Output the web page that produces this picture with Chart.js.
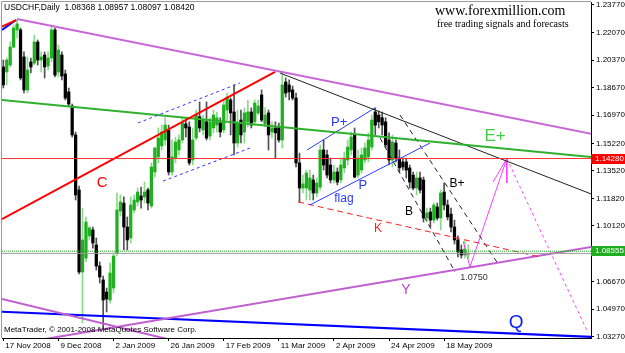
<!DOCTYPE html>
<html>
<head>
<meta charset="utf-8">
<script src="https://cdn.jsdelivr.net/npm/chart.js@4.4.0/dist/chart.umd.min.js"></script>
<style>
  body { margin: 0; background: #fff; }
  #wrap { width: 625px; height: 353px; }
</style>
</head>
<body>
<div id="wrap"><canvas id="chart" width="625" height="353"></canvas></div>
<script>
// USDCHF daily bars, bar 0 = 17 Nov 2008
const open = [
  1.1994,1.1963,1.2006,1.2117,1.2223,1.2223,1.2056,1.1852,1.2025,1.2018,
  1.2148,1.2037,1.2068,1.2000,1.2049,1.2223,1.1963,1.2068,1.1951,1.1840,
  1.1753,1.1574,1.1234,1.0727,1.0813,1.0950,1.0987,1.0894,1.0764,1.0678,
  1.0603,1.0554,1.0628,1.0844,1.1104,1.1153,1.1005,1.0937,1.1110,1.1160,
  1.1197,1.1191,1.1234,1.1135,1.1345,1.1438,1.1506,1.1543,1.1605,1.1345,
  1.1431,1.1481,1.1543,1.1642,1.1623,1.1419,1.1555,1.1686,1.1605,1.1655,
  1.1567,1.1617,1.1635,1.1648,1.1605,1.1728,1.1790,1.1716,1.1524,1.1666,
  1.1592,1.1655,1.1716,1.1655,1.1710,1.1821,1.1642,1.1710,1.1592,1.1617,
  1.1623,1.1543,1.1901,1.1883,1.1852,1.1802,1.1401,1.1246,1.1246,1.1234,
  1.1296,1.1215,1.1252,1.1481,1.1450,1.1388,1.1296,1.1345,1.1296,1.1370,
  1.1419,1.1481,1.1574,1.1326,1.1357,1.1419,1.1438,1.1499,1.1716,1.1697,
  1.1680,1.1655,1.1543,1.1419,1.1524,1.1431,1.1407,1.1407,1.1370,1.1326,
  1.1246,1.1308,1.1296,1.1061,1.1098,1.1048,1.1129,1.1061,1.1221,1.1141,
  1.1085,1.1005,1.0925,1.0863,1.0832,1.08368
];
const high = [
  1.2037,1.2049,1.2148,1.2253,1.2290,1.2235,1.2087,1.2056,1.2049,1.2192,
  1.2161,1.2087,1.2087,1.2087,1.2253,1.2235,1.2130,1.2087,1.1975,1.1864,
  1.1765,1.1592,1.1258,1.1122,1.1067,1.1011,1.1005,1.0937,1.0789,1.0702,
  1.0628,1.0783,1.0844,1.1215,1.1203,1.1191,1.1067,1.1191,1.1203,1.1246,
  1.1252,1.1283,1.1246,1.1401,1.1499,1.1617,1.1635,1.1680,1.1635,1.1543,
  1.1561,1.1574,1.1680,1.1680,1.1655,1.1617,1.1728,1.1778,1.1697,1.1778,
  1.1680,1.1728,1.1716,1.1680,1.1790,1.1833,1.1802,1.1883,1.1728,1.1728,
  1.1741,1.1790,1.1741,1.1790,1.1790,1.1852,1.1741,1.1728,1.1655,1.1655,
  1.1648,1.1951,1.1926,1.1914,1.1876,1.1833,1.1462,1.1326,1.1357,1.1357,
  1.1326,1.1308,1.1512,1.1543,1.1481,1.1431,1.1388,1.1370,1.1431,1.1468,
  1.1543,1.1592,1.1617,1.1481,1.1493,1.1524,1.1587,1.1697,1.1741,1.1722,
  1.1716,1.1680,1.1587,1.1574,1.1543,1.1481,1.1431,1.1431,1.1388,1.1345,
  1.1345,1.1345,1.1314,1.1122,1.1122,1.1153,1.1153,1.1234,1.1277,1.1172,
  1.1122,1.1048,1.0950,1.0894,1.0919,1.08957
];
const low = [
  1.1864,1.1883,1.1994,1.2111,1.2173,1.1914,1.1833,1.1833,1.1957,1.2006,
  1.2006,1.1963,1.1926,1.1975,1.2025,1.1932,1.1932,1.1914,1.1790,1.1753,
  1.1561,1.1172,1.0715,1.0412,1.0789,1.0925,1.0875,1.0739,1.0659,1.0387,
  1.0480,1.0535,1.0597,1.0826,1.1073,1.0863,1.0863,1.0906,1.1092,1.1135,
  1.1122,1.1153,1.1110,1.1122,1.1314,1.1401,1.1481,1.1512,1.1326,1.1326,
  1.1401,1.1450,1.1524,1.1561,1.1388,1.1388,1.1543,1.1592,1.1574,1.1543,
  1.1543,1.1587,1.1592,1.1561,1.1587,1.1666,1.1574,1.1450,1.1499,1.1524,
  1.1524,1.1623,1.1617,1.1635,1.1697,1.1655,1.1623,1.1481,1.1555,1.1431,
  1.1530,1.1493,1.1808,1.1790,1.1790,1.1376,1.1160,1.1215,1.1172,1.1172,
  1.1172,1.1191,1.1234,1.1357,1.1308,1.1277,1.1277,1.1265,1.1277,1.1339,
  1.1388,1.1450,1.1308,1.1308,1.1339,1.1401,1.1407,1.1481,1.1574,1.1617,
  1.1574,1.1493,1.1388,1.1376,1.1407,1.1345,1.1357,1.1308,1.1246,1.1234,
  1.1203,1.1215,1.1036,1.1036,1.1005,1.1030,1.1048,1.0987,1.1110,1.1048,
  1.0974,1.0900,1.0820,1.0813,1.0813,1.08097
];
const close = [
  1.1883,1.2037,1.2117,1.2235,1.2260,1.1926,1.1852,1.1975,1.1994,1.2148,
  1.2037,1.2056,1.1994,1.2049,1.2223,1.1944,1.2099,1.1938,1.1802,1.1765,
  1.1574,1.1203,1.0727,1.0925,1.1036,1.0999,1.0906,1.0764,1.0696,1.0554,
  1.0560,1.0721,1.0826,1.1110,1.1160,1.1005,1.0925,1.1141,1.1172,1.1221,
  1.1172,1.1221,1.1153,1.1376,1.1493,1.1555,1.1592,1.1635,1.1345,1.1438,
  1.1530,1.1543,1.1648,1.1617,1.1401,1.1543,1.1697,1.1617,1.1666,1.1555,
  1.1655,1.1697,1.1680,1.1592,1.1759,1.1808,1.1710,1.1524,1.1648,1.1574,
  1.1710,1.1716,1.1635,1.1771,1.1753,1.1666,1.1697,1.1574,1.1617,1.1587,
  1.1543,1.1883,1.1833,1.1840,1.1802,1.1401,1.1246,1.1271,1.1339,1.1308,
  1.1215,1.1277,1.1481,1.1388,1.1326,1.1296,1.1345,1.1283,1.1388,1.1431,
  1.1499,1.1561,1.1314,1.1431,1.1450,1.1493,1.1543,1.1666,1.1635,1.1655,
  1.1635,1.1512,1.1419,1.1530,1.1431,1.1370,1.1376,1.1357,1.1283,1.1246,
  1.1308,1.1234,1.1061,1.1092,1.1048,1.1141,1.1061,1.1215,1.1141,1.1067,
  1.1005,1.0925,1.0851,1.0832,1.0869,1.08420
];

const dateBars = [0, 16, 32, 48, 64, 80, 96, 112, 128];
const dateLabels = ['17 Nov 2008', '9 Dec 2008', '2 Jan 2009', '26 Jan 2009', '17 Feb 2009',
                    '11 Mar 2009', '2 Apr 2009', '24 Apr 2009', '18 May 2009'];
const priceTicks = [1.2377, 1.2207, 1.2037, 1.1867, 1.1697, 1.1522, 1.1352,
                    1.1182, 1.1012, 1.0667, 1.0497, 1.0327];

// trendlines, points are [bar, price]
const resistTop = [[4, 1.2290], [170.7, 1.1581]];
const lineC = [[-0.4, 1.1054], [78.9, 1.1963]];
const stubRed = [[-0.4, 1.2243], [3.7, 1.2284]];
const stubBlue = [[-0.4, 1.2223], [3.7, 1.2284]];
const chanHigh = [[39.1, 1.1648], [68.7, 1.1895]];
const chanLow = [[46.4, 1.1289], [71.6, 1.1493]];
const lineE = [[-0.4, 1.1790], [170.7, 1.1438]];
const lineDown = [[80.3, 1.1957], [170.7, 1.1209]];
const flagP = [[89.0, 1.1141], [123.9, 1.1524]];
const flagPplus = [[88.2, 1.1481], [107.9, 1.1741]];
const lineK = [[85.6, 1.1160], [155.8, 1.0820]];
const chanB = [[109.4, 1.1555], [131.2, 1.0727]];
const chanBplus = [[115.2, 1.1697], [143.3, 1.0789]];
const lineY = [[-0.4, 1.0268], [170.7, 1.0881]];
const fallLow = [[-0.4, 1.0560], [60, 1.0249]];
const lineQ = [[-0.4, 1.0482], [170.7, 1.0326]];
const arrowUp = [[133.5, 1.0918], [135.5, 1.0758], [146.2, 1.1428]];
const arrowHead = [[142.2, 1.1283], [146.2, 1.1428], [146.2, 1.1277]];
const arrowDown = [[146.2, 1.1428], [169.8, 1.0350]];

const levelRed = 1.14280;
const levelBid = 1.08555;
const levelLast = 1.08420;

const noteText = ['C', 'P+', 'P', 'flag', 'K', 'B', 'B+', 'E+', 'Y', 'Q', '1.0750'];
const noteBar = [28.7, 97.5, 104.4, 98.9, 108.8, 117.8, 131.7, 142.8, 116.9, 148.9, 136.7];
const notePrice = [1.1277, 1.1654, 1.1265, 1.1178, 1.0993, 1.1098, 1.1271, 1.1567, 1.0616, 1.0412, 1.0690];
const noteColor = ['#ff0000', '#2a3cff', '#2a3cff', '#2a3cff', '#ff2020', '#000', '#000',
                   '#44cc44', '#c040c8', '#0a1ef0', '#333'];
const noteSize = [15, 13, 13, 12, 12, 12, 12, 17, 14, 19, 9];

const FONT = '"Liberation Sans", Arial, sans-serif';
Chart.defaults.font.family = FONT;

const xMin = -0.38;
const xMax = 170.64;

function segment(points, color, width, dash) {
    return {
        type: 'line',
        data: points.map(p => ({x: p[0], y: p[1]})),
        borderColor: color,
        borderWidth: width,
        borderDash: dash || [],
        pointRadius: 0,
        fill: false,
        tension: 0,
        clip: 0,
        order: 0
    };
}

function level(value, color, dash) {
    return segment([[xMin, value], [xMax, value]], color, 1, dash);
}

const up = open.map((o, i) => close[i] >= o);

const candles = [
    {
        type: 'bar',
        data: low.map((l, i) => ({x: i, y: [l, high[i]]})),
        backgroundColor: up.map(u => u ? '#86dc86' : '#505050'),
        barThickness: 1,
        order: 2
    },
    {
        type: 'bar',
        data: open.map((o, i) => ({x: i, y: [o, close[i]]})),
        backgroundColor: up.map(u => u ? '#1fb01f' : '#000'),
        barThickness: 2.6,
        minBarLength: 1,
        order: 1
    }
];

const lines = [
    level(levelRed, '#ff3030'),
    level(levelBid, '#22aa22', [1, 1]),
    level(levelLast, '#9a9a9a'),
    segment(resistTop, '#c868d8', 2),
    segment(lineC, '#ff0000', 2),
    segment(stubRed, '#ff0000', 2),
    segment(stubBlue, '#0000ff', 2),
    segment(chanHigh, '#3333ff', 1, [3, 3]),
    segment(chanLow, '#3333ff', 1, [3, 3]),
    segment(lineE, '#2eb02e', 2),
    segment(lineDown, '#222', 1),
    segment(flagP, '#2a3cff', 1),
    segment(flagPplus, '#2a3cff', 1),
    segment(lineK, '#ff2020', 1, [6, 4]),
    segment(chanB, '#222', 1, [5, 4]),
    segment(chanBplus, '#222', 1, [5, 4]),
    segment(lineY, '#c060d0', 2),
    segment(fallLow, '#c060d0', 2),
    segment(lineQ, '#0000ff', 2),
    segment(arrowUp, '#ff40ff', 1),
    segment(arrowHead, '#ff40ff', 1),
    segment(arrowDown, '#ff40ff', 1, [3, 3])
];

const overlay = {
    id: 'overlay',
    afterDraw(chart) {
        const ctx = chart.ctx;
        const a = chart.chartArea;
        const x = chart.scales.x;
        const y = chart.scales.y;
        ctx.save();

        ctx.strokeStyle = '#9a9a9a';
        ctx.lineWidth = 1;
        ctx.beginPath();
        ctx.moveTo(1.5, a.bottom);
        ctx.lineTo(1.5, 1.5);
        ctx.lineTo(a.right, 1.5);
        ctx.stroke();

        ctx.textAlign = 'center';
        ctx.textBaseline = 'middle';
        noteText.forEach((t, i) => {
            ctx.font = noteSize[i] + 'px ' + FONT;
            ctx.fillStyle = noteColor[i];
            ctx.fillText(t, x.getPixelForValue(noteBar[i]), y.getPixelForValue(notePrice[i]));
        });

        ctx.textAlign = 'left';
        ctx.fillStyle = '#000';
        ctx.font = '8.5px ' + FONT;
        ctx.fillText('USDCHF,Daily  1.08368 1.08957 1.08097 1.08420', 4, 8);
        ctx.font = '8px ' + FONT;
        ctx.fillText('MetaTrader, \u00a9 2001-2008 MetaQuotes Software Corp.', 4, 330);

        ctx.font = '14px "Liberation Serif", "Times New Roman", serif';
        ctx.fillText('www.forexmillion.com', 435, 11);
        ctx.font = '10px "Liberation Serif", "Times New Roman", serif';
        ctx.fillText('free trading signals and forecasts', 437, 24);

        [[levelRed, '#ff0000'], [levelBid, '#1fae1f']].forEach(([v, c]) => {
            const py = Math.round(y.getPixelForValue(v));
            ctx.fillStyle = c;
            ctx.fillRect(a.right, py - 5, chart.width - a.right, 10);
            ctx.fillStyle = '#fff';
            ctx.font = '8px ' + FONT;
            ctx.fillText(v.toFixed(5), a.right + 4, py);
        });
        ctx.restore();
    }
};

new Chart(document.getElementById('chart'), {
    type: 'bar',
    data: {datasets: candles.concat(lines)},
    plugins: [overlay],
    options: {
        responsive: false,
        animation: false,
        events: [],
        layout: {padding: {left: 2, top: 2, right: 0, bottom: 0}},
        plugins: {legend: {display: false}, tooltip: {enabled: false}},
        datasets: {bar: {grouped: false, borderWidth: 0}},
        scales: {
            x: {
                type: 'linear',
                min: xMin,
                max: xMax,
                offset: false,
                grid: {drawOnChartArea: false, tickLength: 3, color: '#000', offset: false},
                border: {color: '#000'},
                ticks: {
                    align: 'start', labelOffset: 2, padding: 0, color: '#000',
                    font: {size: 8}, autoSkip: false, maxRotation: 0,
                    callback: (v, i) => dateLabels[i]
                },
                afterBuildTicks: s => { s.ticks = dateBars.map(v => ({value: v})); },
                afterFit: s => { s.height = 15; s.paddingLeft = 0; s.paddingRight = 0; }
            },
            y: {
                type: 'linear',
                position: 'right',
                min: 1.03191,
                max: 1.23955,
                beginAtZero: false,
                grid: {drawOnChartArea: false, tickLength: 3, color: '#000'},
                border: {color: '#000'},
                ticks: {padding: 2, color: '#000', font: {size: 8}, autoSkip: false,
                        callback: v => v.toFixed(5)},
                afterBuildTicks: s => { s.ticks = priceTicks.map(v => ({value: v})); },
                afterFit: s => { s.width = 34; s.paddingTop = 0; s.paddingBottom = 0; }
            }
        }
    }
});
</script>
</body>
</html>
